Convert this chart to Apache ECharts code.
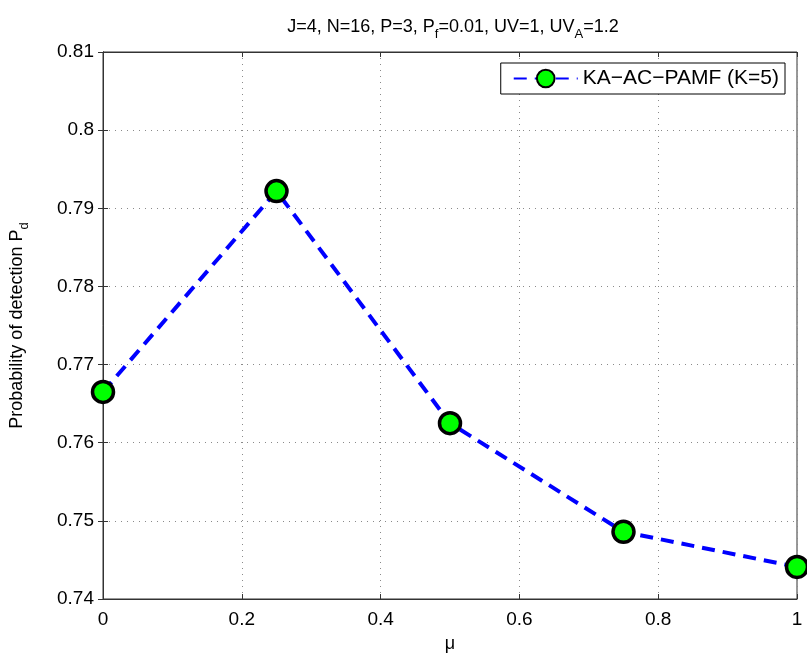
<!DOCTYPE html>
<html>
<head>
<meta charset="utf-8">
<style>
  html, body { margin: 0; padding: 0; background: #fff; }
  #chart { width: 807px; height: 658px; }
</style>
<script src="https://cdn.jsdelivr.net/npm/echarts@6/dist/echarts.min.js"></script>
</head>
<body>
<div id="chart"></div>
<script>
// Detection probability versus the mixing parameter mu
const mu = [0, 0.25, 0.5, 0.75, 1];
const pd = [0.7665, 0.7922, 0.7625, 0.7486, 0.7441];
const seriesName = 'KA\u2212AC\u2212PAMF (K=5)';
const xTicks = { min: 0, max: 1, interval: 0.2 };
const yTicks = { min: 0.74, max: 0.81, interval: 0.01 };

const FONT = 'Liberation Sans';
const chart = echarts.init(document.getElementById('chart'), null, { renderer: 'canvas' });

const gridLine = { show: true, lineStyle: { color: '#8a8a8a', type: [1, 5], width: 1 } };
const inTick = { show: true, inside: true, length: 5, lineStyle: { color: '#333', width: 1 } };

chart.setOption({
  backgroundColor: '#fff',
  animation: false,
  textStyle: { fontFamily: FONT },
  title: {
    text: '{n|J=4, N=16, P=3, P}{s|f}{n|=0.01, UV=1, UV}{s|A}{n|=1.2}',
    left: 448, top: 8, textAlign: 'center',
    textStyle: {
      fontWeight: 'normal',
      rich: {
        n: { fontFamily: FONT, fontSize: 18, fontWeight: 'normal', color: '#000' },
        s: { fontFamily: FONT, fontSize: 13, fontWeight: 'normal', color: '#000', padding: [15, 0, 0, 0] }
      }
    }
  },
  grid: { left: 100, right: 10, top: 52, bottom: 57, show: true, borderColor: '#333', borderWidth: 1, backgroundColor: 'transparent' },
  legend: {
    right: 22, top: 63,
    backgroundColor: '#fff', borderColor: '#000', borderWidth: 1,
    padding: [5, 6, 5, 12],
    itemWidth: 64, itemHeight: 22, itemGap: 8,
    textStyle: { fontFamily: FONT, fontSize: 21, color: '#000' },
    data: [seriesName]
  },
  xAxis: [{
    type: 'value', min: xTicks.min, max: xTicks.max, interval: xTicks.interval,
    name: 'μ', nameLocation: 'middle', nameGap: 36,
    nameTextStyle: { fontFamily: FONT, fontSize: 18, color: '#000' },
    axisLine: { show: true, lineStyle: { color: '#333' } },
    axisTick: inTick,
    axisLabel: { fontSize: 19, color: '#000', margin: 11, fontFamily: FONT },
    splitLine: gridLine
  }, {
    type: 'value', position: 'top', min: xTicks.min, max: xTicks.max, interval: xTicks.interval,
    axisLine: { show: true, lineStyle: { color: '#333' } },
    axisTick: inTick, axisLabel: { show: false }, splitLine: { show: false }
  }],
  yAxis: [{
    type: 'value', min: yTicks.min, max: yTicks.max, interval: yTicks.interval,
    name: '{n|Probability of detection P}{s|d}', nameLocation: 'middle', nameGap: 72, nameRotate: 90,
    nameTextStyle: {
      rich: {
        n: { fontFamily: FONT, fontSize: 18, color: '#000' },
        s: { fontFamily: FONT, fontSize: 13, color: '#000', padding: [15, 0, 0, 0] }
      }
    },
    axisLine: { show: true, lineStyle: { color: '#333' } },
    axisTick: inTick,
    axisLabel: { fontSize: 19, color: '#000', margin: 9, fontFamily: FONT },
    splitLine: gridLine
  }, {
    type: 'value', position: 'right', min: yTicks.min, max: yTicks.max, interval: yTicks.interval,
    axisLine: { show: true, lineStyle: { color: '#333' } },
    axisTick: inTick, axisLabel: { show: false }, splitLine: { show: false }
  }],
  series: [{
    name: seriesName,
    type: 'line',
    data: mu.map((m, i) => [m, pd[i]]),
    xAxisIndex: 0, yAxisIndex: 0,
    symbol: 'circle', symbolSize: 21,
    lineStyle: { color: '#0000ff', width: 4, type: [13, 8] },
    itemStyle: { color: '#00ff00', borderColor: '#000', borderWidth: 3.5 },
    clip: false,
    z: 5
  }]
});
</script>
</body>
</html>
